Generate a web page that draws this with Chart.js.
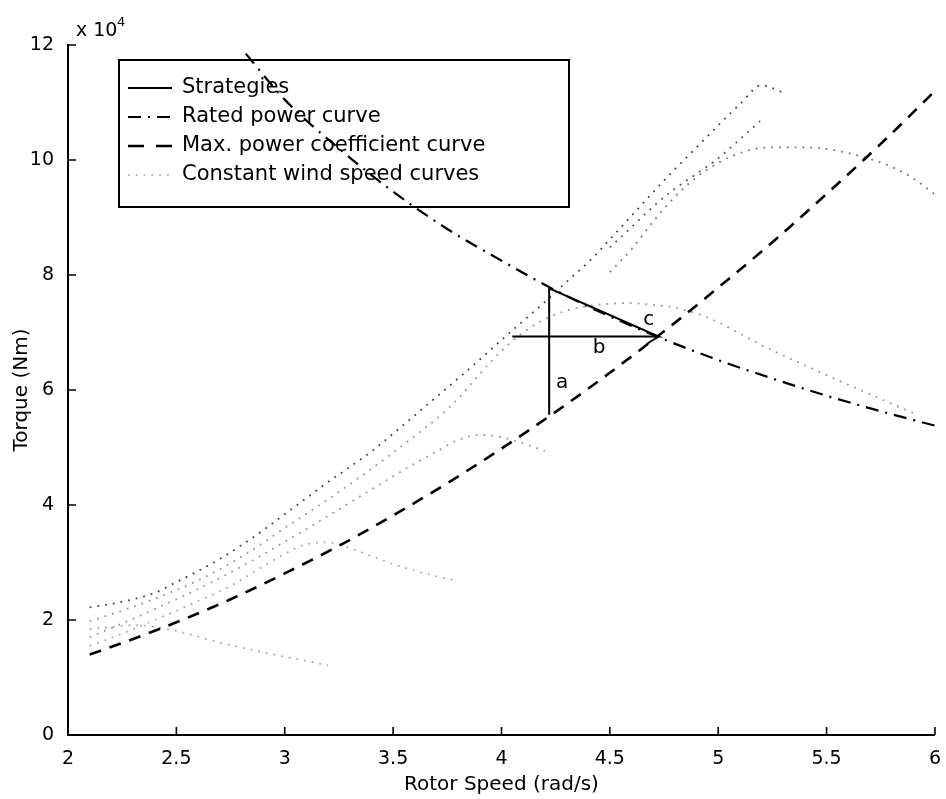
<!DOCTYPE html>
<html>
<head>
<meta charset="utf-8">
<script src="https://cdn.jsdelivr.net/npm/chart.js@4"></script>
<style>
  html, body { margin: 0; padding: 0; background: #fff; }
</style>
</head>
<body>
<canvas id="chart" width="946" height="799"></canvas>
<script>
const FONT = '"DejaVu Sans", sans-serif'

// Torque values are in units of 10^4 Nm, rotor speed in rad/s
const rotorSpeed = [2.1, 2.2, 2.3, 2.4, 2.5, 2.6, 2.7, 2.8, 2.9, 3.0,
  3.1, 3.2, 3.3, 3.4, 3.5, 3.6, 3.7, 3.8, 3.9, 4.0,
  4.1, 4.2, 4.3, 4.4, 4.5, 4.6, 4.7, 4.8, 4.9, 5.0,
  5.1, 5.2, 5.3, 5.4, 5.5, 5.6, 5.7, 5.8, 5.9, 6.0]

// constant wind speed curves (only the traced parts, null elsewhere)
const windA = [2.22, 2.28, 2.36, 2.47, 2.66, 2.85, 3.06, 3.3, 3.56, 3.84,
  4.12, 4.4, 4.66, 4.93, 5.24, 5.56, 5.88, 6.2, 6.53, 6.87,
  7.2, 7.53, 7.88, 8.22, 8.62, 9.03, 9.44, 9.84, 10.22, 10.6,
  10.97, 11.3, 11.17, null, null, null, null, null, null, null]
const windB = [null, null, null, null, null, null, null, null, null, null,
  null, null, null, null, null, null, null, null, null, null,
  null, null, null, null, 8.48, 8.83, 9.19, 9.5, 9.76, 10.03,
  10.36, 10.7, null, null, null, null, null, null, null, null]
const windC = [null, null, null, null, null, null, null, null, null, null,
  null, null, null, null, null, null, null, null, null, null,
  null, null, null, null, 8.05, 8.45, 8.93, 9.36, 9.7, 9.95,
  10.12, 10.21, 10.22, 10.22, 10.19, 10.12, 10.02, 9.88, 9.68, 9.4]
const windD = [1.98, 2.1, 2.23, 2.37, 2.52, 2.69, 2.88, 3.1, 3.34, 3.6,
  3.85, 4.1, 4.36, 4.63, 4.91, 5.2, 5.5, 5.85, 6.28, 6.68,
  7.0, 7.23, 7.38, 7.46, 7.5, 7.51, 7.48, 7.43, 7.33, 7.18,
  6.98, 6.78, 6.6, 6.43, 6.26, 6.09, 5.93, 5.76, 5.6, null]
const windE = [1.70, 1.86, 2.02, 2.19, 2.36, 2.54, 2.73, 2.93, 3.14, 3.36,
  3.58, 3.81, 4.04, 4.27, 4.5, 4.72, 4.93, 5.13, 5.22, 5.18,
  5.07, 4.94, null, null, null, null, null, null, null, null,
  null, null, null, null, null, null, null, null, null, null]
const windF = [1.55, 1.69, 1.84, 2.0, 2.16, 2.33, 2.5, 2.7, 2.93, 3.15,
  3.32, 3.35, 3.25, 3.11, 2.97, 2.86, 2.76, 2.68, null, null,
  null, null, null, null, null, null, null, null, null, null,
  null, null, null, null, null, null, null, null, null, null]
const windG = [1.84, 1.88, 1.91, 1.88, 1.81, 1.71, 1.61, 1.52, 1.44, 1.36,
  1.29, 1.21, null, null, null, null, null, null, null, null,
  null, null, null, null, null, null, null, null, null, null,
  null, null, null, null, null, null, null, null, null, null]

// maximum power coefficient curve
const maxCpSpeed = [2.1, 2.25, 2.5, 2.75, 3.0, 3.25, 3.5, 3.75, 4.0, 4.25, 4.5, 4.75, 5.0, 5.25, 5.5, 5.75, 6.0]
const maxCpTorque = [1.40, 1.60, 1.96, 2.36, 2.81, 3.29, 3.82, 4.38, 4.98, 5.62, 6.30, 7.02, 7.78, 8.57, 9.41, 10.28, 11.2]

// rated power curve
const ratedSpeed = [2.82, 3.0, 3.25, 3.5, 3.75, 4.0, 4.25, 4.5, 4.75, 5.0, 5.25, 5.5, 5.75, 6.0]
const ratedTorque = [11.85, 11.05, 10.2, 9.45, 8.8, 8.25, 7.73, 7.28, 6.88, 6.52, 6.2, 5.9, 5.63, 5.38]

// strategy path b -> c -> a, then the arrow barb at the end of b
const strategySpeed = [4.05, 4.725, 4.22, 4.22, 4.5, 4.67, 4.725]
const strategyTorque = [6.93, 6.93, 7.77, 5.57, null, 6.80, 6.93]

const strategyLabels = ['a', 'b', 'c']
const strategyLabelSpeed = [4.28, 4.45, 4.68]
const strategyLabelTorque = [6.12, 6.73, 7.22]

const xTicks = [2, 2.5, 3, 3.5, 4, 4.5, 5, 5.5, 6]
const yTicks = [0, 2, 4, 6, 8, 10, 12]

const legendLabels = ['Strategies', 'Rated power curve', 'Max. power coefficient curve', 'Constant wind speed curves']

const toPoints = (xs, ys) => xs.map((x, i) => ({ x, y: ys[i] }))

const windDataset = (values, color) => ({
  data: toPoints(rotorSpeed, values),
  borderColor: color,
  borderWidth: 1.8,
  borderDash: [1.8, 6],
  cubicInterpolationMode: 'monotone',
  pointRadius: 0,
  spanGaps: false,
  order: 5,
})

// legend drawn under the curves, like the original figure
const legendBox = {
  id: 'legendBox',
  beforeDatasetsDraw(chart) {
    const { ctx } = chart
    const left = 119, top = 60, w = 450, h = 147
    ctx.save()
    ctx.lineWidth = 2
    ctx.strokeStyle = '#000'
    ctx.strokeRect(left, top, w, h)
    const samples = [
      { color: '#000', dash: [], width: 2 },
      { color: '#000', dash: [13, 7, 2, 7], width: 2.2 },
      { color: '#000', dash: [16, 12], width: 2.4 },
      { color: '#bbb', dash: [1.8, 6], width: 1.8 },
    ]
    ctx.font = '21px ' + FONT
    ctx.textBaseline = 'middle'
    legendLabels.forEach((text, i) => {
      const y = 88 + i * 29
      const s = samples[i]
      ctx.beginPath()
      ctx.setLineDash(s.dash)
      ctx.lineWidth = s.width
      ctx.strokeStyle = s.color
      ctx.moveTo(128, y)
      ctx.lineTo(172, y)
      ctx.stroke()
      ctx.setLineDash([])
      ctx.fillStyle = '#000'
      ctx.fillText(text, 182, y)
    })
    ctx.restore()
  },
}

// inward tick marks, exponent label and strategy letters
const decorations = {
  id: 'decorations',
  afterDraw(chart) {
    const { ctx, chartArea, scales } = chart
    ctx.save()
    ctx.strokeStyle = '#000'
    ctx.lineWidth = 1.6
    ctx.beginPath()
    xTicks.forEach(v => {
      const px = scales.x.getPixelForValue(v)
      ctx.moveTo(px, chartArea.bottom)
      ctx.lineTo(px, chartArea.bottom - 8)
    })
    yTicks.forEach(v => {
      const py = scales.y.getPixelForValue(v)
      ctx.moveTo(chartArea.left, py)
      ctx.lineTo(chartArea.left + 8, py)
    })
    ctx.stroke()

    ctx.fillStyle = '#000'
    ctx.textBaseline = 'alphabetic'
    ctx.font = '19px ' + FONT
    ctx.fillText('x 10', chartArea.left + 8, chartArea.top - 9)
    ctx.font = '13px ' + FONT
    ctx.fillText('4', chartArea.left + 49, chartArea.top - 19)

    ctx.font = '20px ' + FONT
    ctx.textAlign = 'center'
    ctx.textBaseline = 'middle'
    strategyLabels.forEach((t, i) => {
      ctx.fillText(t, scales.x.getPixelForValue(strategyLabelSpeed[i]),
        scales.y.getPixelForValue(strategyLabelTorque[i]))
    })
    ctx.restore()
  },
}

new Chart(document.getElementById('chart'), {
  type: 'line',
  data: {
    datasets: [
      {
        data: toPoints(strategySpeed, strategyTorque),
        borderColor: '#000',
        borderWidth: 2,
        tension: 0,
        pointRadius: 0,
        spanGaps: false,
        order: 1,
      },
      {
        data: toPoints(ratedSpeed, ratedTorque),
        borderColor: '#000',
        borderWidth: 2.2,
        borderDash: [13, 7, 2, 7],
        cubicInterpolationMode: 'monotone',
        pointRadius: 0,
        order: 2,
      },
      {
        data: toPoints(maxCpSpeed, maxCpTorque),
        borderColor: '#000',
        borderWidth: 2.6,
        borderDash: [12, 9],
        cubicInterpolationMode: 'monotone',
        pointRadius: 0,
        order: 3,
      },
      windDataset(windA, '#444'),
      windDataset(windB, '#555'),
      windDataset(windC, '#777'),
      windDataset(windD, '#999'),
      windDataset(windE, '#999'),
      windDataset(windF, '#aaa'),
      windDataset(windG, '#aaa'),
    ],
  },
  options: {
    responsive: false,
    animation: false,
    layout: { padding: { left: 0, right: 9, top: 45, bottom: 0 } },
    plugins: { legend: { display: false }, tooltip: { enabled: false } },
    scales: {
      x: {
        type: 'linear',
        min: 2,
        max: 6,
        afterBuildTicks: scale => { scale.ticks = xTicks.map(value => ({ value })) },
        afterFit: scale => { scale.height = 64 },
        grid: { display: false },
        border: { display: true, color: '#000', width: 2 },
        ticks: {
          color: '#000',
          padding: 5,
          font: { family: FONT, size: 19 },
          callback: value => String(value),
        },
        title: {
          display: true,
          text: 'Rotor Speed (rad/s)',
          color: '#000',
          font: { family: FONT, size: 20 },
          padding: { top: 0, bottom: 2 },
        },
      },
      y: {
        type: 'linear',
        min: 0,
        max: 12,
        afterBuildTicks: scale => { scale.ticks = yTicks.map(value => ({ value })) },
        afterFit: scale => { scale.width = 68 },
        grid: { display: false },
        border: { display: true, color: '#000', width: 2 },
        ticks: {
          color: '#000',
          padding: 6,
          font: { family: FONT, size: 19 },
          callback: value => String(value),
        },
        title: {
          display: true,
          text: 'Torque (Nm)',
          color: '#000',
          font: { family: FONT, size: 20 },
          padding: { top: 10, bottom: 0 },
        },
      },
    },
  },
  plugins: [legendBox, decorations],
})
</script>
</body>
</html>
